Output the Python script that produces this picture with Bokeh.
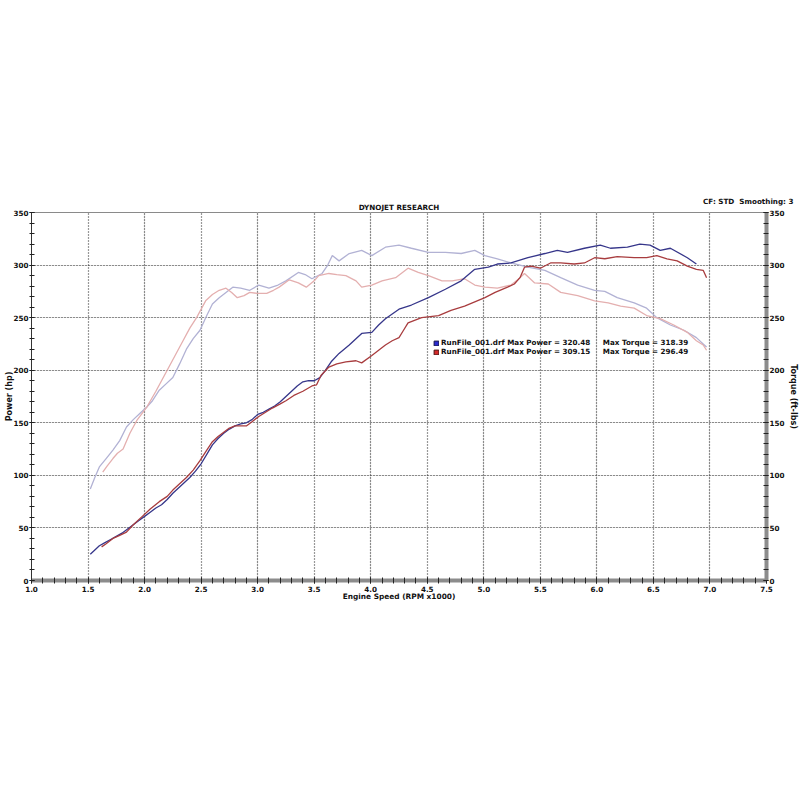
from bokeh.plotting import figure
from bokeh.models import (Range1d, LinearAxis, SingleIntervalTicker, Legend, LegendItem,
                          Grid, Title, PrintfTickFormatter)
from bokeh.embed import file_html
from bokeh.resources import INLINE

FONT = "DejaVu Sans"

# ---------------- data (read from the dyno sheet) ----------------
rpm_power_1 = [1.52, 1.56, 1.60, 1.65, 1.70, 1.75, 1.80, 1.85, 1.90, 1.95, 2.00, 2.05, 2.10, 2.15,
               2.20, 2.25, 2.30, 2.35, 2.40, 2.45, 2.50, 2.55, 2.60, 2.65, 2.70, 2.75, 2.80, 2.85,
               2.90, 2.95, 3.00, 3.05, 3.10, 3.15, 3.20, 3.25, 3.30, 3.35, 3.40, 3.45, 3.50, 3.55,
               3.60, 3.65, 3.72, 3.81, 3.86, 3.92, 4.01, 4.07, 4.13, 4.25, 4.36, 4.51, 4.66, 4.80,
               4.92, 5.04, 5.12, 5.24, 5.39, 5.54, 5.65, 5.74, 5.89, 6.03, 6.12, 6.27, 6.38, 6.47,
               6.56, 6.65, 6.80, 6.88]
power_1 = [25, 29, 33, 36, 39, 42, 45, 49, 53, 57, 61, 65, 69, 72,
           77, 83, 88, 93, 98, 104, 111, 120, 129, 135, 140, 144, 147, 149,
           150, 153, 158, 160, 163, 166, 170, 175, 180, 185, 189, 190, 190, 193,
           200, 208, 216, 224, 229, 235, 236, 243, 249, 258, 262, 269, 277, 285,
           296, 298, 301, 302, 307, 311, 314, 312, 316, 319, 316, 317, 320, 319,
           314, 316, 307, 301]

rpm_power_2 = [1.62, 1.66, 1.72, 1.78, 1.84, 1.90, 1.98, 2.05, 2.13, 2.20, 2.25, 2.31, 2.37, 2.43,
               2.49, 2.55, 2.60, 2.65, 2.70, 2.75, 2.80, 2.85, 2.90, 2.95, 3.01, 3.07, 3.13, 3.20,
               3.25, 3.32, 3.40, 3.48, 3.52, 3.56, 3.63, 3.70, 3.78, 3.87, 3.92, 4.01, 4.07, 4.13,
               4.19, 4.25, 4.29, 4.33, 4.45, 4.60, 4.71, 4.83, 4.92, 5.01, 5.10, 5.21, 5.27, 5.32,
               5.36, 5.42, 5.50, 5.59, 5.68, 5.80, 5.89, 5.98, 6.07, 6.18, 6.33, 6.44, 6.53, 6.62,
               6.71, 6.80, 6.88, 6.94, 6.97]
power_2 = [32, 35, 40, 43, 46, 53, 61, 68, 75, 80, 86, 92, 98, 105,
           114, 124, 132, 137, 141, 145, 147, 147, 147, 151, 156, 160, 164, 168,
           171, 176, 180, 185, 186, 195, 203, 206, 208, 209, 207, 214, 219, 224,
           228, 231, 238, 245, 250, 252, 257, 261, 265, 269, 274, 279, 282, 288,
           298, 299, 297, 302, 302, 301, 302, 307, 306, 308, 307, 307, 309, 306,
           304, 299, 296, 295, 288]

rpm_torque_1 = [1.52, 1.56, 1.60, 1.66, 1.72, 1.78, 1.84, 1.90, 1.96, 2.02, 2.07, 2.13, 2.19, 2.25,
                2.31, 2.37, 2.43, 2.49, 2.55, 2.60, 2.66, 2.72, 2.78, 2.85, 2.93, 3.01, 3.10, 3.18,
                3.25, 3.36, 3.42, 3.48, 3.57, 3.62, 3.66, 3.72, 3.81, 3.92, 4.01, 4.13, 4.25, 4.36,
                4.51, 4.66, 4.80, 4.92, 5.01, 5.12, 5.24, 5.39, 5.54, 5.68, 5.83, 5.98, 6.07, 6.18,
                6.33, 6.44, 6.53, 6.65, 6.77, 6.88, 6.94, 6.97]
torque_1 = [87, 98, 108, 116, 124, 133, 146, 153, 159, 165, 171, 181, 187, 193,
            206, 220, 230, 238, 252, 263, 269, 274, 279, 278, 276, 281, 278, 281,
            285, 293, 291, 287, 292, 300, 309, 304, 311, 314, 309, 317, 319, 316,
            312, 312, 311, 314, 309, 306, 302, 298, 295, 288, 281, 276, 275, 269,
            264, 259, 250, 243, 238, 231, 225, 222]

rpm_torque_2 = [1.63, 1.67, 1.72, 1.76, 1.81, 1.87, 1.93, 2.02, 2.10, 2.20, 2.27, 2.34, 2.40, 2.46,
                2.54, 2.60, 2.66, 2.72, 2.77, 2.82, 2.88, 2.93, 3.00, 3.08, 3.14, 3.19, 3.28, 3.36,
                3.43, 3.50, 3.54, 3.63, 3.70, 3.78, 3.87, 3.92, 4.01, 4.10, 4.22, 4.33, 4.42, 4.51,
                4.63, 4.72, 4.77, 4.83, 4.92, 5.01, 5.12, 5.24, 5.30, 5.36, 5.45, 5.57, 5.68, 5.83,
                5.98, 6.10, 6.21, 6.33, 6.44, 6.56, 6.68, 6.80, 6.88, 6.94, 6.97]
torque_2 = [103, 109, 116, 121, 125, 140, 152, 165, 180, 200, 214, 228, 240, 250,
            266, 272, 276, 278, 274, 269, 271, 274, 273, 273, 276, 279, 286, 283,
            279, 285, 290, 292, 291, 290, 285, 279, 281, 285, 288, 297, 293, 290,
            285, 285, 286, 287, 281, 279, 278, 281, 286, 292, 283, 282, 274, 271,
            266, 264, 261, 259, 252, 249, 243, 236, 228, 224, 219]

run_files = ["RunFile_001.drf", "RunFile_001.drf"]
max_power = [320.48, 309.15]
max_torque = [318.39, 296.49]

title_text = "DYNOJET RESEARCH"
info_text = "CF: STD\u00a0 Smoothing: 3"
x_label = "Engine Speed (RPM x1000)"
y_label_left = "Power (hp)"
y_label_right = "Torque (ft-lbs)"

# ---------------- styling ----------------
POWER_COLORS = ["#36368a", "#a83c3e"]
TORQUE_COLORS = ["#b2b2d4", "#e4afaf"]
SWATCH_FILL = ["#2a2ad0", "#d42a2a"]
SWATCH_LINE = ["#15154a", "#4a1515"]
TXT = "#111111"
FS = "7.2px"

W, H = 800, 610
FL, FT, FW, FH = 31, 212, 739, 368

p = figure(width=W, height=H, output_backend="svg", toolbar_location=None,
           x_range=Range1d(1.0, 7.5), y_range=Range1d(0, 350),
           min_border_left=FL, min_border_right=W - FL - FW,
           min_border_top=FT, min_border_bottom=H - FT - FH,
           x_axis_location=None, y_axis_location=None)
p.background_fill_color = "white"
p.border_fill_color = "white"
p.outline_line_color = "#8a8a8a"
p.outline_line_width = 1

# header texts (p.title is the outer one, pulled down onto the same line)
p.title.text = info_text
p.title.align = "right"
p.title.offset = -27
p.title.standoff = -13
p.title.text_font = FONT
p.title.text_font_style = "bold"
p.title.text_font_size = FS
p.title.text_color = TXT
p.add_layout(Title(text=title_text, align="center", standoff=2, text_font=FONT,
                   text_font_style="bold", text_font_size=FS, text_color=TXT), "above")

xt = SingleIntervalTicker(interval=0.5, num_minor_ticks=5)
yt = SingleIntervalTicker(interval=50, num_minor_ticks=5)


def style_axis(ax, line_color, line_width, tick_out=2):
    ax.axis_line_color = line_color
    ax.axis_line_width = line_width
    ax.major_tick_line_color = "#222222"
    ax.minor_tick_line_color = "#222222"
    ax.major_tick_in = 3
    ax.major_tick_out = tick_out
    ax.minor_tick_in = 3
    ax.minor_tick_out = tick_out
    ax.major_label_text_font = FONT
    ax.major_label_text_font_style = "bold"
    ax.major_label_text_font_size = FS
    ax.major_label_text_color = TXT
    ax.major_label_standoff = 1
    ax.axis_label_text_font = FONT
    ax.axis_label_text_font_style = "bold"
    ax.axis_label_text_font_size = "8px"
    ax.axis_label_text_color = TXT


xa = LinearAxis(ticker=xt, formatter=PrintfTickFormatter(format="%.1f"), axis_label=x_label)
style_axis(xa, "#8c8c8c", 4, tick_out=3)
xa.major_label_standoff = 2
xa.axis_label_standoff = -3
xa.axis_label_text_font_size = "7.4px"
p.add_layout(xa, "below")

ya = LinearAxis(ticker=yt, axis_label=y_label_left)
style_axis(ya, "#333333", 1)
ya.axis_label_standoff = -4
p.add_layout(ya, "left")

yr = LinearAxis(ticker=yt, axis_label=y_label_right)
style_axis(yr, "#8c8c8c", 4)
yr.axis_label_standoff = 1
p.add_layout(yr, "right")

gx = Grid(dimension=0, ticker=xt, grid_line_color="#333333", grid_line_width=1.2,
          grid_line_dash="1 2")
gy = Grid(dimension=1, ticker=yt, grid_line_color="#333333", grid_line_width=1.2,
          grid_line_dash="1 2")
p.add_layout(gx)
p.add_layout(gy)

# torque curves (behind)
p.line(rpm_torque_1, torque_1, line_color=TORQUE_COLORS[0], line_width=1.3)
p.line(rpm_torque_2, torque_2, line_color=TORQUE_COLORS[1], line_width=1.3)
# power curves
p.line(rpm_power_1, power_1, line_color=POWER_COLORS[0], line_width=1.3)
p.line(rpm_power_2, power_2, line_color=POWER_COLORS[1], line_width=1.3)

# legend swatches: placeholder quads with no drawable data, used only for the legend icon
nan = float("nan")
items = []
for i in range(2):
    r = p.quad(left=[nan], right=[nan], top=[nan], bottom=[nan], fill_color=SWATCH_FILL[i],
               line_color=SWATCH_LINE[i], line_width=1)
    label = (f"{run_files[i]} Max Power = {max_power[i]:.2f}" + "\u00a0" * 5 +
             f"Max Torque = {max_torque[i]:.2f}")
    items.append(LegendItem(label=label, renderers=[r]))

leg = Legend(items=items, location=(402, 224), orientation="vertical",
             glyph_width=6, glyph_height=6, label_height=7, label_standoff=2,
             spacing=-4, padding=0, margin=0,
             label_text_font=FONT, label_text_font_style="bold",
             label_text_font_size=FS, label_text_color=TXT,
             background_fill_alpha=0, border_line_alpha=0)
p.add_layout(leg, "center")

open("out.html", "w").write(file_html(p, INLINE))
